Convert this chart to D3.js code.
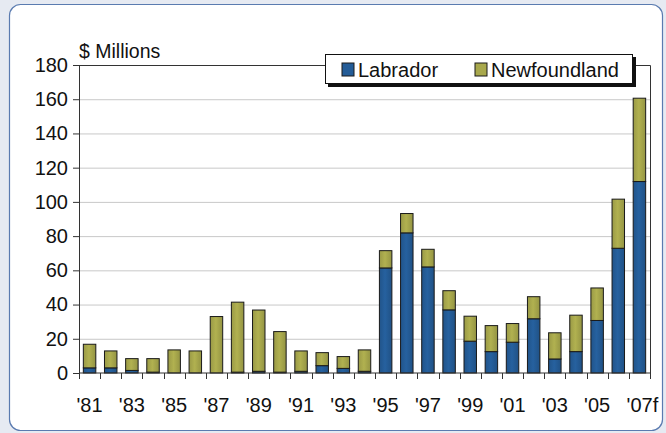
<!DOCTYPE html>
<html>
<head>
<meta charset="utf-8">
<script src="https://cdn.jsdelivr.net/npm/d3@7"></script>
<style>
  body { margin: 0; background: #e6eaf2; }
  svg { display: block; }
  text { font-family: "Liberation Sans", Arial, sans-serif; fill: #111; }
</style>
</head>
<body>
<script>
const width = 666;
const height = 433;

// data ($ millions)
const years = ["'81", "'82", "'83", "'84", "'85", "'86", "'87", "'88", "'89", "'90", "'91", "'92", "'93", "'94",
    "'95", "'96", "'97", "'98", "'99", "'00", "'01", "'02", "'03", "'04", "'05", "'06", "'07f"];
const labrador = [3, 3, 1.5, 0.5, 0, 0, 0, 0.5, 1, 0.5, 1, 4.3, 2.7, 1,
    61.4, 81.9, 62, 36.9, 18.6, 12.5, 18, 31.7, 8.2, 12.5, 30.7, 72.9, 111.9];
const totals = [16.8, 12.9, 8.4, 8.4, 13.5, 12.9, 33, 41.4, 36.8, 24.2, 12.9, 11.9, 9.6, 13.5,
    71.5, 93.2, 72.3, 48.1, 33.2, 27.7, 28.9, 44.6, 23.5, 33.8, 49.7, 101.6, 160.6];
const newfoundland = totals.map((t, i) => +(t - labrador[i]).toFixed(1));
const yTicks = [0, 20, 40, 60, 80, 100, 120, 140, 160, 180];
const seriesNames = ["Labrador", "Newfoundland"];
const colours = {Labrador: "#245c97", Newfoundland: "#a8a84c"};

const margin = {left: 79, right: 16, top: 65, bottom: 60};
const plotRight = width - margin.right;
const plotBottom = height - margin.bottom;

const svg = d3.select("body").append("svg")
    .attr("width", width)
    .attr("height", height);

// white rounded panel
svg.append("rect")
    .attr("x", 9.5).attr("y", 4.5)
    .attr("width", 653).attr("height", 426)
    .attr("rx", 11)
    .attr("fill", "#fff")
    .attr("stroke", "#5a7bb0")
    .attr("stroke-width", 1.2);

const table = years.map((y, i) => ({year: y, Labrador: labrador[i], Newfoundland: newfoundland[i]}));
const stacked = d3.stack().keys(seriesNames)(table);

const x = d3.scaleBand()
    .domain(years)
    .range([margin.left, plotRight])
    .paddingInner(0.41)
    .paddingOuter(0.205);

const y = d3.scaleLinear()
    .domain([0, 180])
    .range([plotBottom, margin.top]);

// gridlines
svg.append("g")
    .selectAll("line")
    .data(yTicks.filter(t => t > 0 && t < 180))
    .join("line")
    .attr("x1", margin.left).attr("x2", plotRight)
    .attr("y1", d => y(d) + 0.5).attr("y2", d => y(d) + 0.5)
    .attr("stroke", "#c8c8c8")
    .attr("stroke-width", 1);

// plot box top and right
svg.append("path")
    .attr("d", `M${margin.left},${margin.top + 0.5}H${plotRight + 0.5}V${plotBottom}`)
    .attr("fill", "none")
    .attr("stroke", "#333")
    .attr("stroke-width", 1);

// gradient for bars
const defs = svg.append("defs");
seriesNames.forEach(name => {
    const base = d3.color(colours[name]);
    const g = defs.append("linearGradient").attr("id", "g-" + name);
    g.append("stop").attr("offset", "0%").attr("stop-color", base.darker(0.25));
    g.append("stop").attr("offset", "45%").attr("stop-color", base.brighter(0.15));
    g.append("stop").attr("offset", "100%").attr("stop-color", base.darker(0.35));
});

// bars
svg.append("g")
    .selectAll("g")
    .data(stacked)
    .join("g")
    .attr("fill", d => `url(#g-${d.key})`)
    .selectAll("rect")
    .data(d => d.filter(s => s[1] - s[0] > 0))
    .join("rect")
    .attr("x", d => x(d.data.year))
    .attr("width", x.bandwidth())
    .attr("y", d => y(d[1]))
    .attr("height", d => y(d[0]) - y(d[1]))
    .attr("stroke", "#1a1a1a")
    .attr("stroke-width", 1);

// y axis
const yAxis = svg.append("g")
    .attr("transform", `translate(${margin.left},0)`)
    .call(d3.axisLeft(y).tickValues(yTicks).tickSize(6).tickPadding(5));
yAxis.select(".domain").attr("stroke", "#333");
yAxis.selectAll(".tick line").attr("stroke", "#333");
yAxis.selectAll("text")
    .attr("font-size", 20)
    .attr("font-family", "Liberation Sans, Arial, sans-serif")
    .attr("fill", "#111");

// x axis with ticks between the bars
const xAxis = svg.append("g")
    .attr("transform", `translate(0,${plotBottom})`);
xAxis.append("line")
    .attr("x1", margin.left).attr("x2", plotRight + 0.5)
    .attr("stroke", "#333");
const step = x.step();
xAxis.selectAll("line.tk")
    .data(d3.range(years.length + 1))
    .join("line")
    .attr("class", "tk")
    .attr("x1", i => Math.round(margin.left + i * step) + 0.5)
    .attr("x2", i => Math.round(margin.left + i * step) + 0.5)
    .attr("y1", 0).attr("y2", 6)
    .attr("stroke", "#333");
xAxis.selectAll("text")
    .data(years.filter((d, i) => i % 2 === 0))
    .join("text")
    .attr("x", d => x(d) + x.bandwidth() / 2 + (d === "'07f" ? 3 : 0))
    .attr("y", 39)
    .attr("text-anchor", "middle")
    .attr("font-size", 20)
    .text(d => d);

// unit label
svg.append("text")
    .attr("x", 79).attr("y", 58)
    .attr("font-size", 19.5)
    .text("$ Millions");

// legend with drop shadow
const lg = svg.append("g").attr("transform", "translate(325,54)");
lg.append("rect")
    .attr("x", 3).attr("y", 3)
    .attr("width", 308).attr("height", 30)
    .attr("fill", "#111");
lg.append("rect")
    .attr("x", 0.5).attr("y", 0.5)
    .attr("width", 307).attr("height", 29)
    .attr("fill", "#fff")
    .attr("stroke", "#111");
const items = lg.selectAll("g.item")
    .data(seriesNames)
    .join("g")
    .attr("class", "item")
    .attr("transform", (d, i) => `translate(${[17, 150][i]},8)`);
items.append("rect")
    .attr("width", 12).attr("height", 13)
    .attr("y", 1)
    .attr("fill", d => colours[d])
    .attr("stroke", "#1a1a1a");
items.append("text")
    .attr("x", 16).attr("y", 15)
    .attr("font-size", 20)
    .text(d => d);
</script>
</body>
</html>
